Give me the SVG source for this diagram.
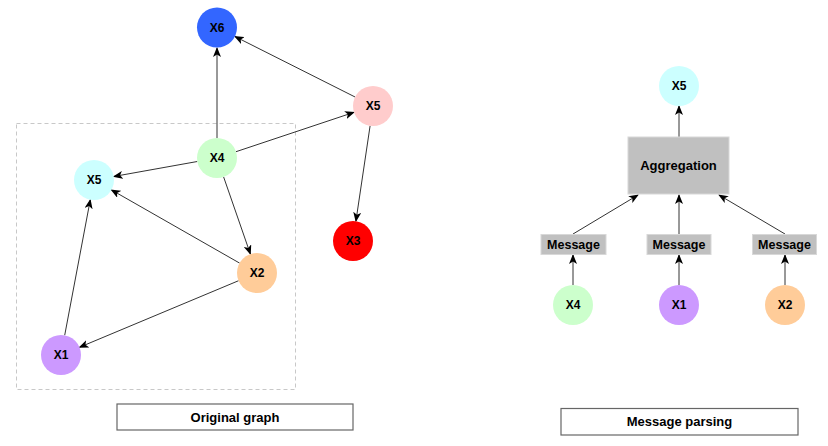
<svg xmlns="http://www.w3.org/2000/svg" width="828" height="446" viewBox="0 0 828 446">
<defs>
<marker id="arr" markerWidth="10" markerHeight="8" refX="9" refY="4" orient="auto" markerUnits="userSpaceOnUse">
<path d="M0,0 L10,4 L0,8 L2.5,4 z" fill="#000"/>
</marker>
<style>
text{font-family:"Liberation Sans",Arial,sans-serif;font-weight:bold;font-size:12px;fill:#000;text-anchor:middle;dominant-baseline:central}
.edge{stroke:#333;stroke-width:1;fill:none;marker-end:url(#arr)}
.box{fill:#C0C0C0;stroke:#D8D8D8;stroke-width:1}
.label{fill:#fff;stroke:#666;stroke-width:1.2}
.big{font-size:13px}
.msg{font-size:12.5px}
</style>
</defs>
<rect width="828" height="446" fill="#fff"/>
<rect x="16.5" y="123.5" width="279" height="266" fill="none" stroke="#C8C8C8" stroke-dasharray="4,3"/>
<g id="connectors">
<line class="edge" x1="217" y1="138" x2="217" y2="48"/>
<line class="edge" x1="355.1" y1="97" x2="234.9" y2="36.5"/>
<line class="edge" x1="236" y1="151.7" x2="354" y2="112.3"/>
<line class="edge" x1="197.3" y1="161.5" x2="113.7" y2="176.5"/>
<line class="edge" x1="223.6" y1="176.9" x2="250.4" y2="254.1"/>
<line class="edge" x1="239.6" y1="263.1" x2="111.4" y2="189.9"/>
<line class="edge" x1="64.7" y1="335.3" x2="90.3" y2="199.7"/>
<line class="edge" x1="238.6" y1="280.7" x2="79.4" y2="347.3"/>
<line class="edge" x1="370.1" y1="125.8" x2="355.9" y2="221.2"/>
<line class="edge" x1="679" y1="137" x2="679" y2="106"/>
<line class="edge" x1="573" y1="234" x2="638" y2="195"/>
<line class="edge" x1="679" y1="234" x2="679" y2="195"/>
<line class="edge" x1="785" y1="234" x2="719" y2="195"/>
<line class="edge" x1="573" y1="285" x2="573" y2="255"/>
<line class="edge" x1="679" y1="285" x2="679" y2="255"/>
<line class="edge" x1="785" y1="285" x2="785" y2="255"/>
</g>
<g id="n-x6"><circle cx="217" cy="27.5" r="20" fill="#3366FF"/><text x="217" y="27.5">X6</text></g>
<g id="n-x5p"><circle cx="373" cy="106" r="20" fill="#FFCCCC"/><text x="373" y="106">X5</text></g>
<g id="n-x4"><circle cx="217" cy="158" r="20" fill="#CCFFCC"/><text x="217" y="158">X4</text></g>
<g id="n-x5c"><circle cx="94" cy="180" r="20" fill="#CCFFFF"/><text x="94" y="180">X5</text></g>
<g id="n-x2"><circle cx="257" cy="273" r="20" fill="#FFCC99"/><text x="257" y="273">X2</text></g>
<g id="n-x1"><circle cx="61" cy="355" r="20" fill="#CC99FF"/><text x="61" y="355">X1</text></g>
<g id="n-x3"><circle cx="353" cy="241" r="20" fill="#FF0000"/><text x="353" y="241">X3</text></g>
<g id="lbl-orig"><rect class="label" x="117" y="404" width="236" height="26"/><text class="big" x="235" y="417">Original graph</text></g>
<g id="r-x5"><circle cx="679" cy="86" r="20" fill="#CCFFFF"/><text x="679" y="86">X5</text></g>
<g id="r-agg"><rect class="box" x="628" y="137" width="101" height="57"/><text class="big" x="678.5" y="165.5">Aggregation</text></g>
<g id="r-m1"><rect class="box" x="541" y="234.5" width="65" height="20"/><text class="msg" x="573.5" y="244.5">Message</text></g>
<g id="r-m2"><rect class="box" x="647" y="234.5" width="64" height="20"/><text class="msg" x="679" y="244.5">Message</text></g>
<g id="r-m3"><rect class="box" x="752.5" y="234.5" width="64" height="20"/><text class="msg" x="784.5" y="244.5">Message</text></g>
<g id="r-x4"><circle cx="573" cy="305" r="20" fill="#CCFFCC"/><text x="573" y="305">X4</text></g>
<g id="r-x1"><circle cx="679" cy="305" r="20" fill="#CC99FF"/><text x="679" y="305">X1</text></g>
<g id="r-x2"><circle cx="785" cy="305" r="20" fill="#FFCC99"/><text x="785" y="305">X2</text></g>
<g id="lbl-msg"><rect class="label" x="561" y="408.5" width="237" height="26.5"/><text class="big" x="679.5" y="421.5">Message parsing</text></g>
</svg>
